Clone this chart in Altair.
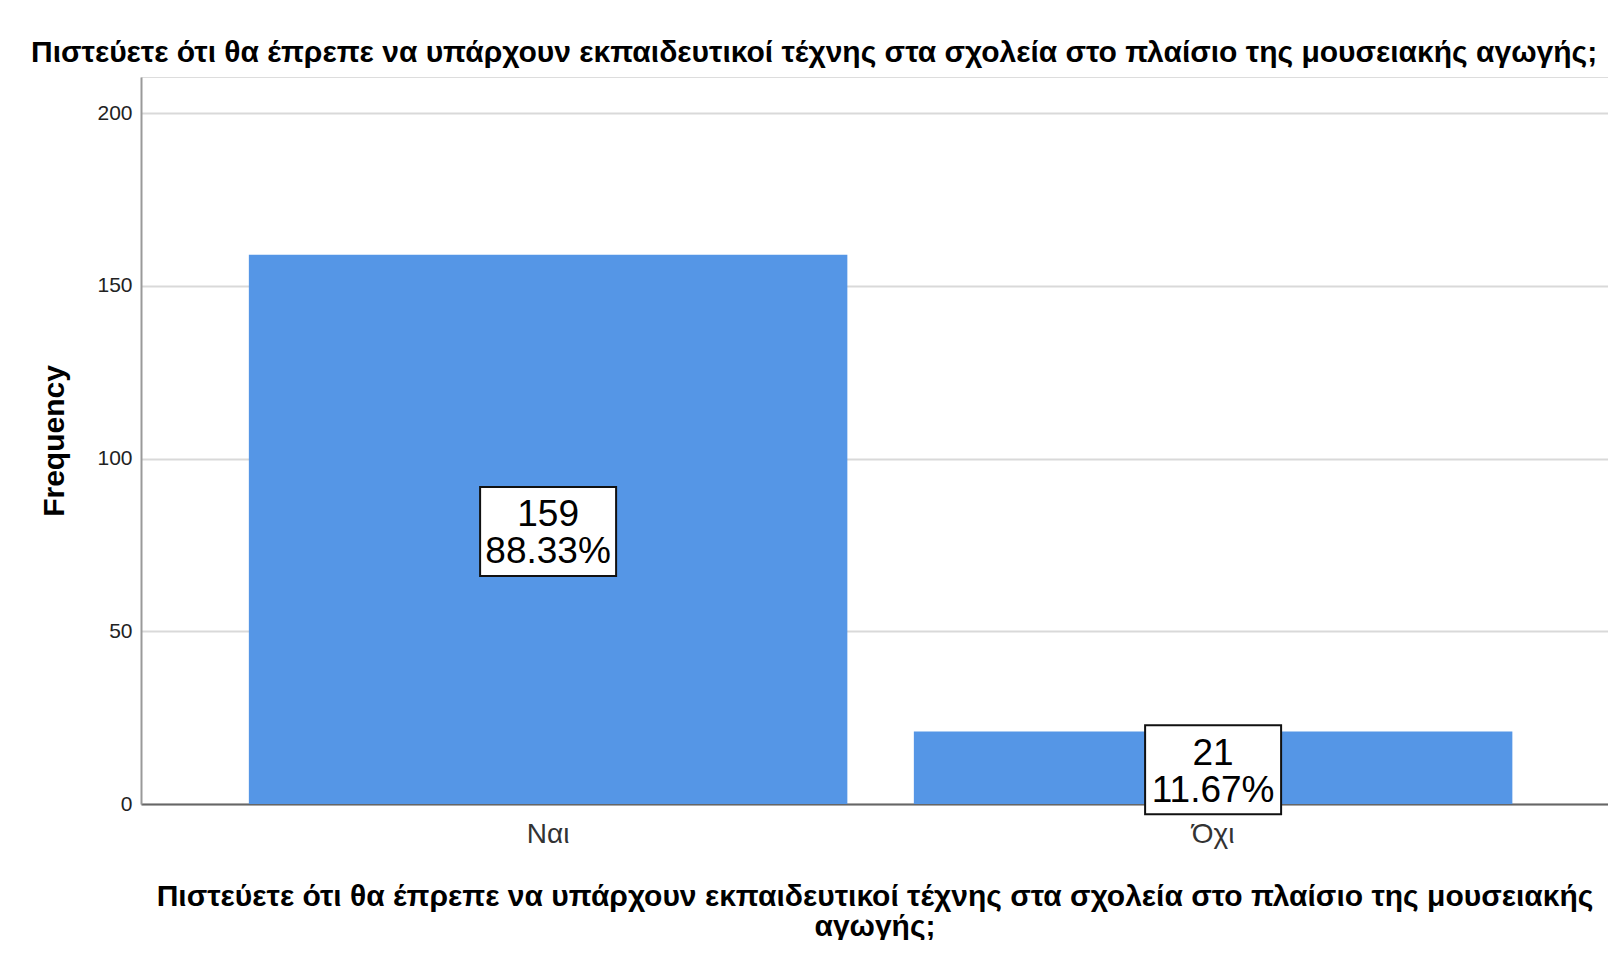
import altair as alt
import pandas as pd

# Data
categories = ["Ναι", "Όχι"]
counts = [159, 21]
percents = ["88.33%", "11.67%"]

question = "Πιστεύετε ότι θα έπρεπε να υπάρχουν εκπαιδευτικοί τέχνης στα σχολεία στο πλαίσιο της μουσειακής αγωγής;"
x_title_lines = [
    "Πιστεύετε ότι θα έπρεπε να υπάρχουν εκπαιδευτικοί τέχνης στα σχολεία στο πλαίσιο της μουσειακής",
    "αγωγής;",
]
y_ticks = [0, 50, 100, 150, 200]

df = pd.DataFrame({
    "category": categories,
    "count": counts,
    "label": [f"{c}\n{p}" for c, p in zip(counts, percents)],
})

FONT = "Liberation Sans"
BAR = "#5596E6"

x_enc = alt.X(
    "category:N",
    sort=categories,
    scale=alt.Scale(paddingInner=0.1, paddingOuter=0.153, align=0.53),
    axis=alt.Axis(
        title=x_title_lines,
        labelAngle=0,
        labelFontSize=28,
        labelColor="#333333",
        labelFont=FONT,
        labelPadding=16,
        ticks=False,
        tickSize=0,
        domainColor="#666666",
        domainWidth=2,
        grid=False,
        titleFont=FONT,
        titleFontSize=30,
        titleFontWeight="bold",
        titleColor="#000000",
        titleLineHeight=30,
        titleBaseline="alphabetic",
        titleY=101,
    ),
)

y_scale = alt.Scale(domain=[0, 210.5], nice=False)

bars = alt.Chart(df).mark_bar(color=BAR).encode(
    x=x_enc,
    y=alt.Y(
        "count:Q",
        scale=y_scale,
        axis=alt.Axis(
            title="Frequency",
            values=y_ticks,
            labelFontSize=21,
            labelColor="#222222",
            labelFont=FONT,
            labelPadding=9,
            ticks=False,
            tickSize=0,
            domainColor="#999999",
            domainWidth=2,
            grid=True,
            gridColor="#d9d9d9",
            gridWidth=2,
            titleFont=FONT,
            titleFontSize=30,
            titleFontWeight="bold",
            titleColor="#000000",
            titleBaseline="alphabetic",
            titleX=-78,
        ),
    ),
)

base = alt.Chart(df).transform_calculate(mid="datum.count / 2")

boxes = base.mark_point(
    shape="M-1,-0.654L1,-0.654L1,0.654L-1,0.654Z",
    filled=True,
    fill="white",
    stroke="#111111",
    strokeWidth=2,
    opacity=1,
    size=136 * 136,
    yOffset=2,
).encode(
    x=alt.X("category:N", sort=categories),
    y=alt.Y("mid:Q", scale=y_scale),
)

texts = base.mark_text(
    font=FONT,
    fontSize=37,
    color="#000000",
    lineBreak="\n",
    lineHeight=37,
    baseline="middle",
    align="center",
    dy=-14,
).encode(
    x=alt.X("category:N", sort=categories),
    y=alt.Y("mid:Q", scale=y_scale),
    text="label:N",
)

chart = alt.layer(bars, boxes, texts).properties(
    width=1467,
    height=727,
    title=alt.TitleParams(
        text=question,
        anchor="start",
        frame="group",
        dx=-110,
        dy=29,
        offset=14,
        baseline="alphabetic",
        font=FONT,
        fontSize=30,
        fontWeight="bold",
        color="#000000",
    ),
    autosize=alt.AutoSizeParams(type="none"),
    padding={"left": 133, "top": 69, "right": 0, "bottom": 136},
).configure_view(
    stroke=None
).configure(
    background="white"
)

chart.save("out.html", embed_options={"renderer": "svg", "actions": False})
